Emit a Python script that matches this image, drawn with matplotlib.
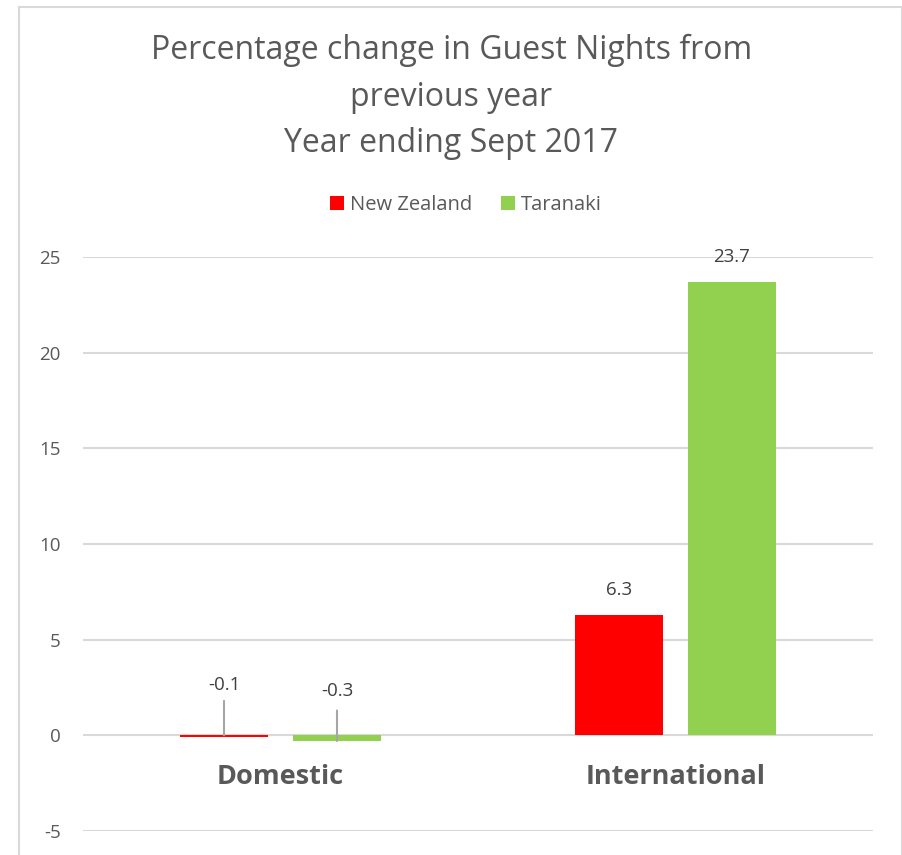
import matplotlib
matplotlib.use("Agg")
import matplotlib.pyplot as plt
from matplotlib.patches import Rectangle
import numpy as np

categories = ["Domestic", "International"]
series_names = ["New Zealand", "Taranaki"]
nz_values = [-0.1, 6.3]
taranaki_values = [-0.3, 23.7]
value_labels_nz = ["-0.1", "6.3"]
value_labels_tk = ["-0.3", "23.7"]
y_ticks = [-5, 0, 5, 10, 15, 20, 25]

RED = "#FF0000"
GREEN = "#92D050"
TXT = "#595959"
GRID = "#D9D9D9"

plt.rcParams["font.family"] = ["Open Sans", "DejaVu Sans"]

fig = plt.figure(figsize=(9.03, 8.55), dpi=100)
# chart border
fig.patches.append(Rectangle((19/903, -0.05), (902-19)/903, (855-7)/855 + 0.05,
                             transform=fig.transFigure, fill=False,
                             edgecolor=GRID, linewidth=1.5))

ax = fig.add_axes([83/903, 24/855, (873-83)/903, (831-257)/855])
ax.set_xlim(-0.5, 1.5)
ax.set_ylim(-5, 25)

x = np.arange(len(categories))
w = 88/395
off = 56.5/395
b1 = ax.bar(x - off, nz_values, w, color=RED, label=series_names[0], zorder=3)
b2 = ax.bar(x + off, taranaki_values, w, color=GREEN, label=series_names[1], zorder=3)

for s in ax.spines.values():
    s.set_visible(False)
ax.set_yticks(y_ticks)
ax.set_yticklabels([str(t) for t in y_ticks])
ax.tick_params(axis="y", length=0, pad=16, labelsize=13.5, labelcolor=TXT)
ax.tick_params(axis="x", length=0)
ax.set_xticks([])
ax.grid(axis="y", color=GRID, linewidth=1.5, zorder=0)
ax.set_axisbelow(True)

# category labels
for xi, c in zip(x, categories):
    ax.annotate(c, (xi, 0), xytext=(0, -30), textcoords="offset points",
                ha="center", va="center", fontsize=19.5, fontweight="bold", color=TXT)

LBL = "#404040"
for i in range(len(categories)):
    if nz_values[i] >= 1:
        ax.annotate(value_labels_nz[i], (x[i] - off, nz_values[i]), xytext=(0, 18),
                    textcoords="offset points", ha="center", va="center",
                    fontsize=13.5, color=LBL)
    else:
        ax.annotate("", xy=(x[i] - off, 0), xytext=(x[i] - off, 1.8),
                    arrowprops=dict(arrowstyle="-", color="#A6A6A6", lw=1.5,
                                    shrinkA=0, shrinkB=0), zorder=4)
        ax.text(x[i] - off, 2.65, value_labels_nz[i], ha="center", va="center",
                fontsize=13.5, color=LBL)
    if taranaki_values[i] >= 1:
        ax.annotate(value_labels_tk[i], (x[i] + off, taranaki_values[i]), xytext=(0, 18),
                    textcoords="offset points", ha="center", va="center",
                    fontsize=13.5, color=LBL)
    else:
        ax.annotate("", xy=(x[i] + off, taranaki_values[i]), xytext=(x[i] + off, 1.3),
                    arrowprops=dict(arrowstyle="-", color="#A6A6A6", lw=1.5,
                                    shrinkA=0, shrinkB=0), zorder=4)
        ax.text(x[i] + off, 2.3, value_labels_tk[i], ha="center", va="center",
                fontsize=13.5, color=LBL)

fig.text(0.5, 1 - 97/855, "Percentage change in Guest Nights from\nprevious year\nYear ending Sept 2017",
         ha="center", va="center", fontsize=23, color=TXT, linespacing=1.55)

leg = fig.legend(handles=[b1, b2], labels=series_names, loc="center",
                 bbox_to_anchor=(466/903, 1 - 205/855), ncol=2, frameon=False,
                 fontsize=14.5, handlelength=0.7, handleheight=0.7,
                 handletextpad=0.3, columnspacing=1.4, labelcolor=TXT)

fig.savefig("out.png", dpi=100)
